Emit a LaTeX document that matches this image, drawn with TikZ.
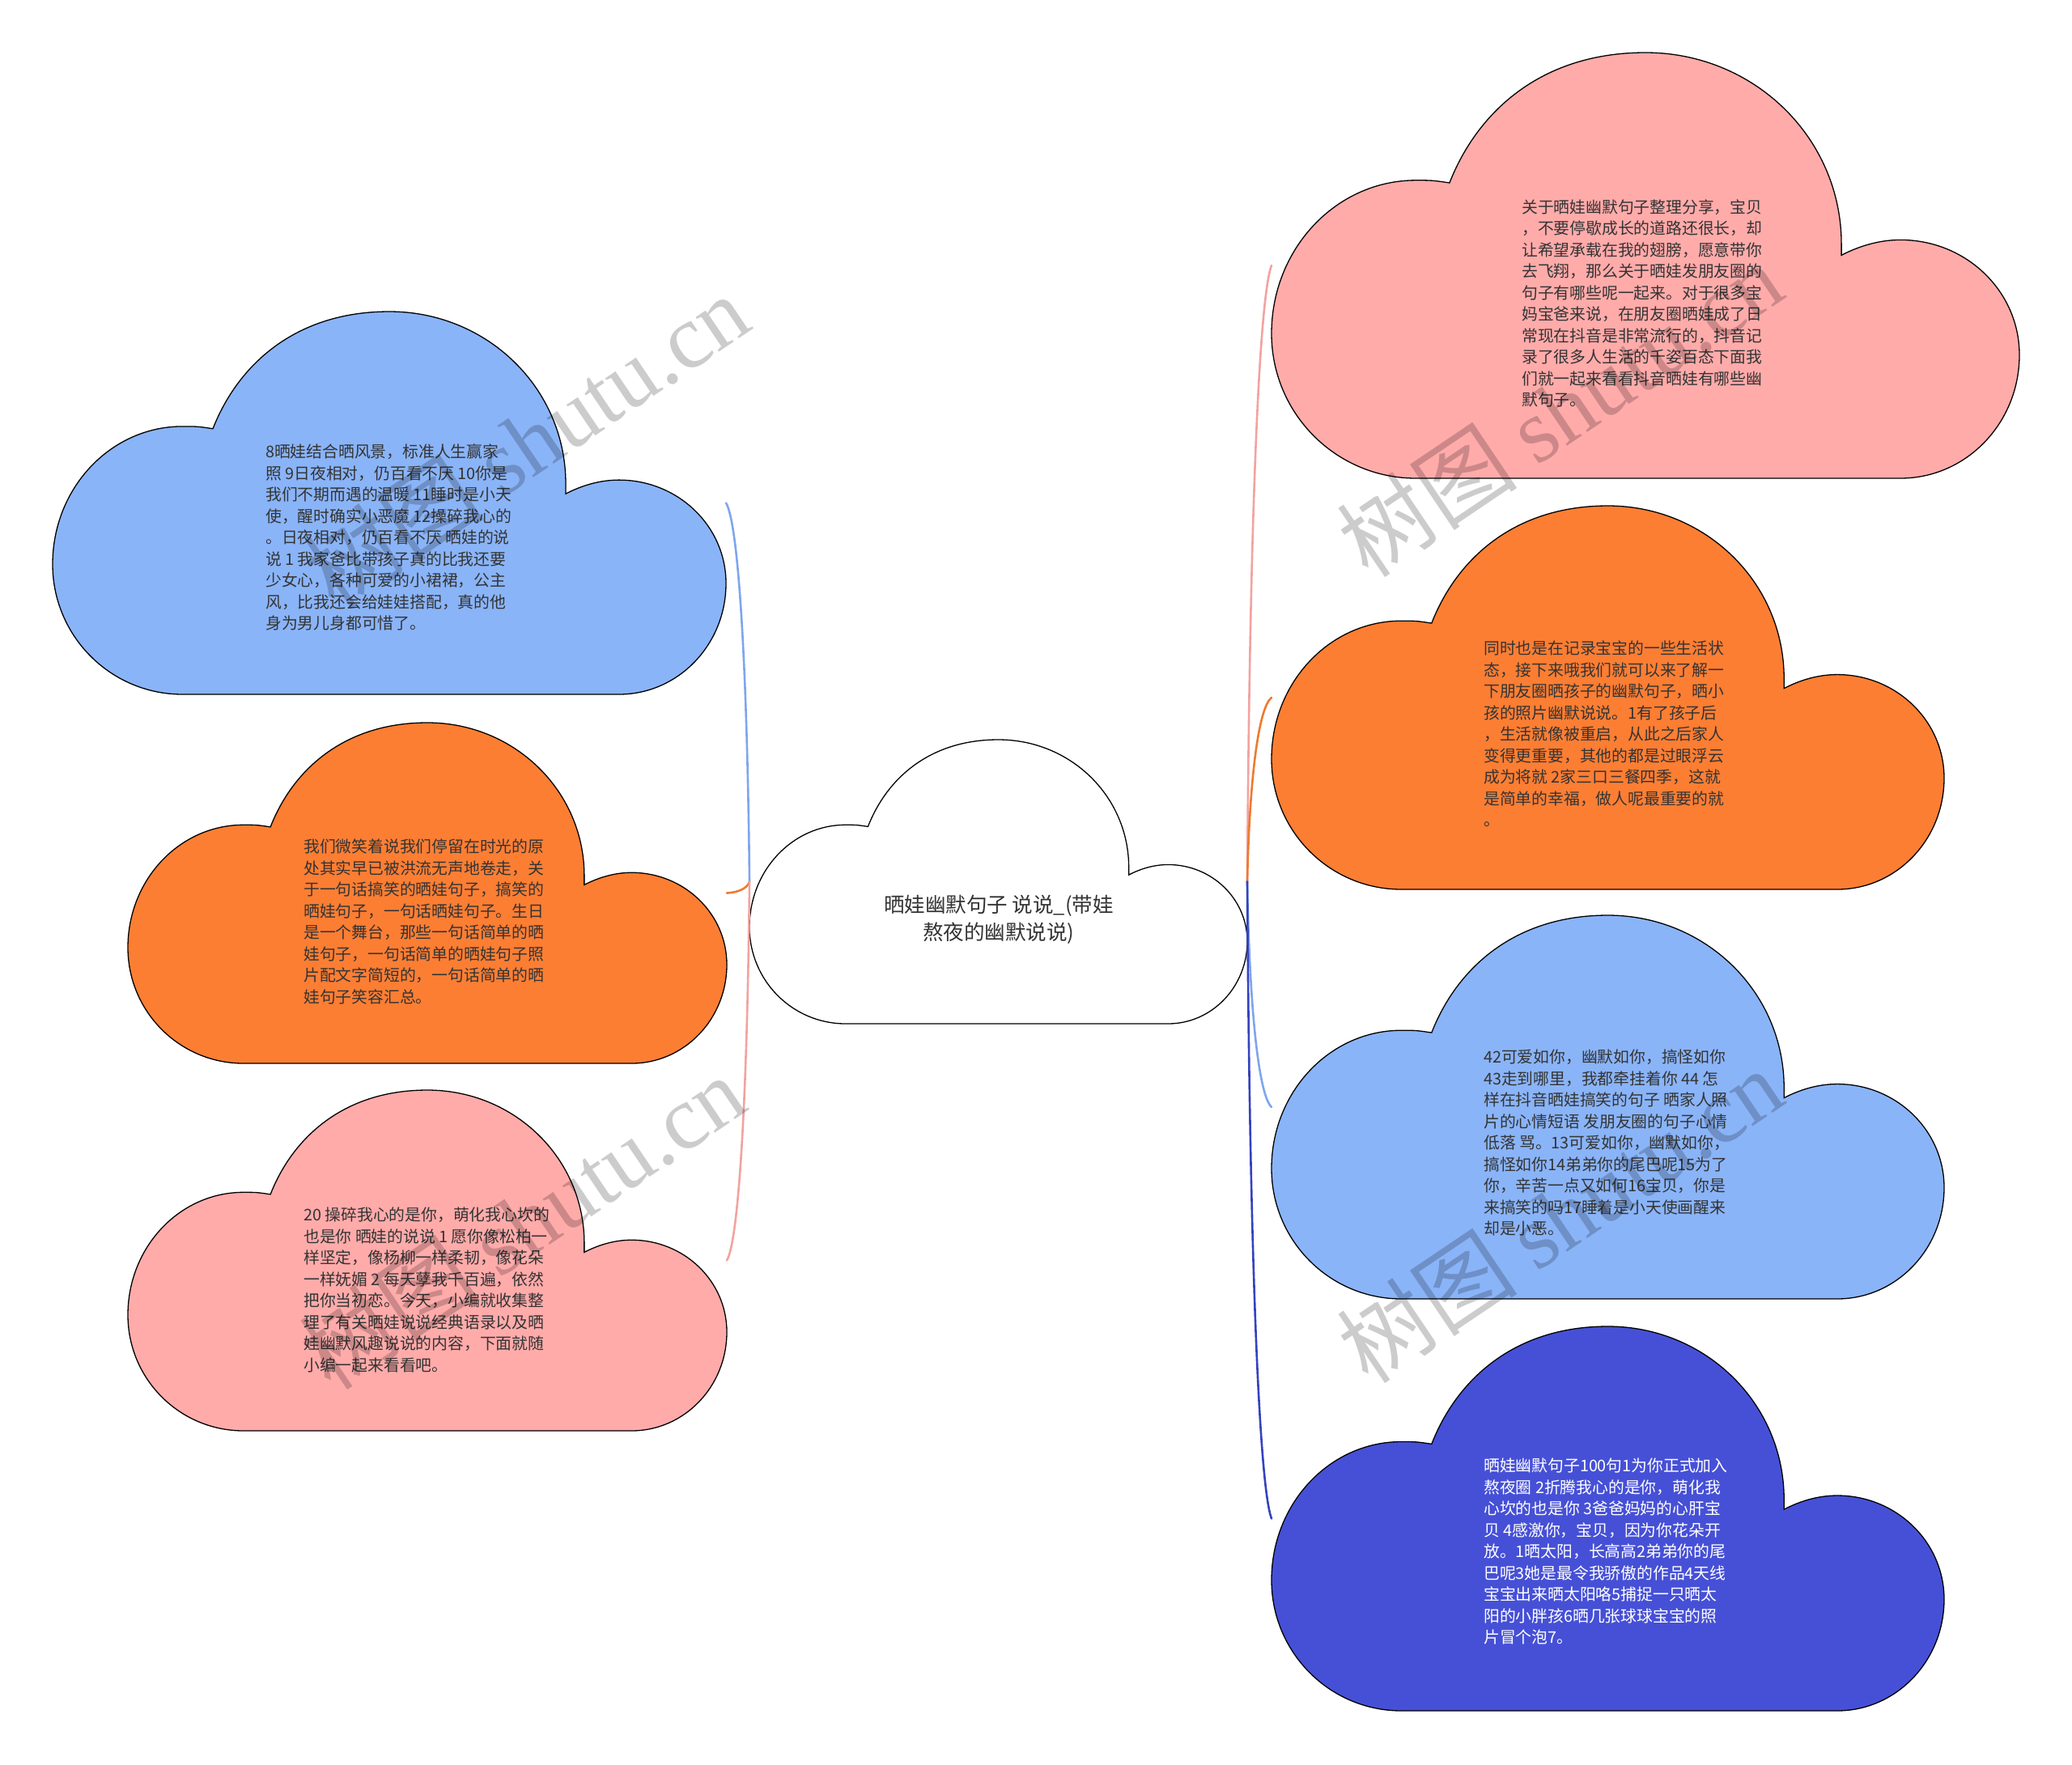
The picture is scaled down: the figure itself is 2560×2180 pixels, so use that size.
\documentclass[tikz,border=0pt]{standalone}
\usepackage{fontspec}
\setmainfont{Noto Sans CJK SC}
\newfontfamily\wmserif{Liberation Serif}
\usetikzlibrary{calc}

\definecolor{cblue}{HTML}{8AB4F8}
\definecolor{corange}{HTML}{FC7E33}
\definecolor{cpink}{HTML}{FFABAA}
\definecolor{cdark}{HTML}{4650D6}
\definecolor{txtgray}{HTML}{333333}
\definecolor{lblue}{HTML}{7EA6EC}
\definecolor{lorange}{HTML}{EE7A30}
\definecolor{lpink}{HTML}{F2A3A0}
\definecolor{ldark}{HTML}{3443BE}

\tikzset{
  cloudbox/.style={inner sep=0pt, outer sep=0pt, draw=none, rectangle},
  cloudline/.style={draw=black, line width=1.3pt},
  connline/.style={line width=2.6pt, line cap=round},
  bodytext/.style={inner sep=0pt, align=left, anchor=west, text=txtgray,
    font=\fontsize{19.8}{26.5}\selectfont},
  centertext/.style={inner sep=0pt, align=center, text=txtgray,
    font=\fontsize{25.5}{34}\selectfont},
  wmark/.style={inner sep=0pt, text=black, text opacity=0.2,
    font=\fontsize{112}{112}\selectfont, rotate=34}
}

\newcommand\cloudpath{(0.193,1) .. controls (0.0864,1) and (0,0.848) .. (0,0.66)
  .. controls (0,0.461) and (0.0864,0.30) .. (0.193,0.30)
  .. controls (0.215,0.30) .. (0.238,0.306)
  .. controls (0.275,0.14) and (0.36,0) .. (0.5,0)
  .. controls (0.645,0) and (0.762,0.2) .. (0.762,0.45)
  -- (0.762,0.476)
  .. controls (0.785,0.455) and (0.812,0.44) .. (0.841,0.44)
  .. controls (0.929,0.44) and (1,0.561) .. (1,0.71)
  .. controls (1,0.87) and (0.929,1) .. (0.841,1) -- cycle}

% name, x0, y0, w, h, fill
\newcommand\drawcloud[6]{%
  \node[cloudbox, minimum width=#4pt, minimum height=#5pt] (#1) at ({#2+#4/2},{#3+#5/2}) {};%
  \begin{scope}[shift={(#2,#3)}, xscale=#4, yscale=#5]%
    \draw[cloudline, fill=#6] \cloudpath;%
  \end{scope}}

% from, to, colour
\newcommand\connect[3]{%
  \draw[connline, draw=#3] let \p1=(#1), \p2=(#2) in
    (\p1) .. controls ({\x1+0.1*(\x2-\x1)},{\y1+0.6*(\y2-\y1)})
    and ({\x1+0.5*(\x2-\x1)},{\y2-0.05*(\y2-\y1)}) .. (\p2);}

\begin{document}
\begin{tikzpicture}[x=1pt, y=-1pt]
\fill[white] (0,0) rectangle (2560,2180);
\useasboundingbox (0,0) rectangle (2560,2180);

% invisible boxes first (for connectors), clouds drawn after
\drawcloud{ctr}{926}{914}{615}{351}{white}
\drawcloud{lt}{65}{385}{832}{473}{cblue}
\drawcloud{lm}{158}{893}{740}{421}{corange}
\drawcloud{lb}{158}{1347}{740}{421}{cpink}
\drawcloud{rt}{1571}{65}{924}{526}{cpink}
\drawcloud{rtwo}{1571}{625}{831}{474}{corange}
\drawcloud{rthree}{1571}{1131}{831}{474}{cblue}
\drawcloud{rfour}{1571}{1639}{831}{475}{cdark}

% connectors
\connect{ctr.west}{lt.east}{lblue}
\connect{ctr.west}{lm.east}{lorange}
\connect{ctr.west}{lb.east}{lpink}
\connect{ctr.east}{rt.west}{lpink}
\connect{ctr.east}{rtwo.west}{lorange}
\connect{ctr.east}{rthree.west}{lblue}
\connect{ctr.east}{rfour.west}{ldark}

% texts
\node[centertext] (tctr) at (1234,1136) {晒娃幽默句子 说说\_(带娃\\熬夜的幽默说说)};

\node[bodytext] (tlt) at (328,664) {8晒娃结合晒风景，标准人生赢家\\
照 9日夜相对，仍百看不厌 10你是\\
我们不期而遇的温暖 11睡时是小天\\
使，醒时确实小恶魔 12操碎我心的\\
。日夜相对，仍百看不厌 晒娃的说\\
说 1 我家爸比带孩子真的比我还要\\
少女心，各种可爱的小裙裙，公主\\
风，比我还会给娃娃搭配，真的他\\
身为男儿身都可惜了。};

\node[bodytext] (tlm) at (375,1139) {我们微笑着说我们停留在时光的原\\
处其实早已被洪流无声地卷走，关\\
于一句话搞笑的晒娃句子，搞笑的\\
晒娃句子，一句话晒娃句子。生日\\
是一个舞台，那些一句话简单的晒\\
娃句子，一句话简单的晒娃句子照\\
片配文字简短的，一句话简单的晒\\
娃句子笑容汇总。};

\node[bodytext] (tlb) at (375,1594) {20 操碎我心的是你，萌化我心坎的\\
也是你 晒娃的说说 1 愿你像松柏一\\
样坚定，像杨柳一样柔韧，像花朵\\
一样妩媚 2 每天孽我千百遍，依然\\
把你当初恋。今天，小编就收集整\\
理了有关晒娃说说经典语录以及晒\\
娃幽默风趣说说的内容，下面就随\\
小编一起来看看吧。};

\node[bodytext] (trt) at (1880,375) {关于晒娃幽默句子整理分享，宝贝\\
，不要停歇成长的道路还很长，却\\
让希望承载在我的翅膀，愿意带你\\
去飞翔，那么关于晒娃发朋友圈的\\
句子有哪些呢一起来。对于很多宝\\
妈宝爸来说，在朋友圈晒娃成了日\\
常现在抖音是非常流行的，抖音记\\
录了很多人生活的千姿百态下面我\\
们就一起来看看抖音晒娃有哪些幽\\
默句子。};

\node[bodytext] (trtwo) at (1833,907) {同时也是在记录宝宝的一些生活状\\
态，接下来哦我们就可以来了解一\\
下朋友圈晒孩子的幽默句子，晒小\\
孩的照片幽默说说。1有了孩子后\\
，生活就像被重启，从此之后家人\\
变得更重要，其他的都是过眼浮云\\
成为将就 2家三口三餐四季，这就\\
是简单的幸福，做人呢最重要的就\\
。};

\node[bodytext] (trthree) at (1833,1412) {42可爱如你，幽默如你，搞怪如你\\
43走到哪里，我都牵挂着你 44 怎\\
样在抖音晒娃搞笑的句子 晒家人照\\
片的心情短语 发朋友圈的句子心情\\
低落 骂。13可爱如你，幽默如你，\\
搞怪如你14弟弟你的尾巴呢15为了\\
你，辛苦一点又如何16宝贝，你是\\
来搞笑的吗17睡着是小天使画醒来\\
却是小恶。};

\node[bodytext, text=white] (trfour) at (1833,1917) {晒娃幽默句子100句1为你正式加入\\
熬夜圈 2折腾我心的是你，萌化我\\
心坎的也是你 3爸爸妈妈的心肝宝\\
贝 4感激你，宝贝，因为你花朵开\\
放。1晒太阳，长高高2弟弟你的尾\\
巴呢3她是最令我骄傲的作品4天线\\
宝宝出来晒太阳咯5捕捉一只晒太\\
阳的小胖孩6晒几张球球宝宝的照\\
片冒个泡7。};

% watermarks
\node[wmark] (wa) at (650,545) {树图 {\wmserif shutu.cn}};
\node[wmark] (wb) at (645,1510) {树图 {\wmserif shutu.cn}};
\node[wmark] (wc) at (1927,506) {树图 {\wmserif shutu.cn}};
\node[wmark] (wd) at (1927,1502) {树图 {\wmserif shutu.cn}};
\end{tikzpicture}
\end{document}
